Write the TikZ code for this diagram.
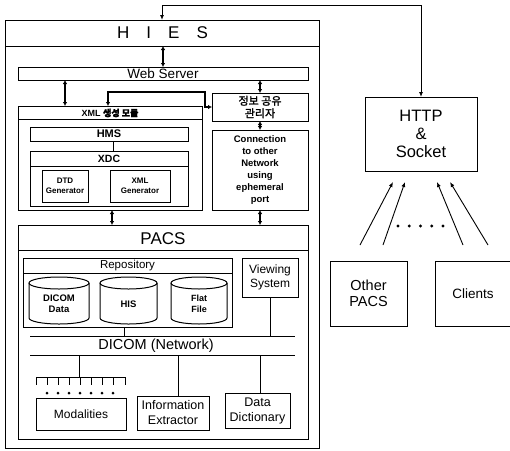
\documentclass[tikz,border=0pt]{standalone}
\usepackage{fontspec}
\setmainfont{Liberation Sans}
\newfontfamily\kr[FakeBold=1.5]{Noto Sans CJK KR}
\usetikzlibrary{arrows.meta}
\tikzset{
  bx/.style={draw, line width=1pt, inner sep=0pt, outer sep=0pt, align=center},
  ln/.style={line width=1pt},
  dbl/.style={{Latex[length=4pt,width=4.5pt]}-{Latex[length=4pt,width=4.5pt]}, line width=1.2pt},
  sgl/.style={-{Latex[length=5pt,width=4pt]}, line width=0.9pt},
  txt/.style={inner sep=0pt, align=center},
}
\newcommand{\fs}[2]{\fontsize{#1}{#2}\selectfont}
\begin{document}
\begin{tikzpicture}[x=1pt, y=-1pt]
\useasboundingbox (0,0) rectangle (510,450);
\fill[white] (0,0) rectangle (510,450);

% ---- HIES outer box
\node[bx, minimum width=314pt, minimum height=428pt] (hies) at (162,234) {};
\node[txt, font=\fs{17}{20}] (hiest) at (162.5,33) {H\quad I\quad E\quad S};
\draw[ln] ([yshift=-26pt]hies.north west) -- ([yshift=-26pt]hies.north east);

% ---- Web server
\node[bx, minimum width=290pt, minimum height=13pt] (web) at (163,73.5) {};
\node[txt, font=\fs{13.5}{14}] (webt) at (163,73.5) {Web Server};

% ---- XML module
\node[bx, minimum width=184pt, minimum height=104pt] (xml) at (110,158) {};
\draw[ln] ([yshift=-13pt]xml.north west) -- ([yshift=-13pt]xml.north east);
\node[txt, font=\fs{9}{10}\bfseries] (xmlt) at (110,113) {XML {\kr 생성 모듈}};
\node[bx, minimum width=158pt, minimum height=14pt] (hms) at (109,134) {};
\node[txt, font=\fs{11}{11}\bfseries] (hmst) at (109,134) {HMS};
\node[bx, minimum width=158pt, minimum height=55pt] (xdc) at (109,178.5) {};
\draw[ln] ([yshift=-15pt]xdc.north west) -- ([yshift=-15pt]xdc.north east);
\node[txt, font=\fs{10.5}{11}\bfseries] (xdct) at (109,158.5) {XDC};
\node[bx, minimum width=46pt, minimum height=32pt, font=\fs{8}{10.5}\bfseries] (dtd) at (65,186) {DTD\\Generator};
\node[bx, minimum width=60pt, minimum height=32pt, font=\fs{8}{10.5}\bfseries] (xmlg) at (140,186) {XML\\Generator};
\draw[ln] (hms.south -| 113,0) -- (xdc.north -| 113,0);

% ---- info sharing manager & connection
\node[bx, minimum width=96pt, minimum height=28pt, font=\fs{11}{12.5}\kr] (info) at (260,107) {정보 공유\\관리자};
\node[bx, minimum width=96pt, minimum height=80pt, font=\fs{9.5}{12}\bfseries] (conn) at (260,170) {Connection\\to other\\Network\\using\\ephemeral\\port};

% ---- PACS
\node[bx, minimum width=290pt, minimum height=214pt] (pacs) at (163,332) {};
\draw[ln] ([yshift=-25pt]pacs.north west) -- ([yshift=-25pt]pacs.north east);
\node[txt, font=\fs{17}{20}] (pacst) at (163,239) {PACS};

\node[bx, minimum width=209pt, minimum height=69pt] (repo) at (127.5,292.5) {};
\draw[ln] ([yshift=-15pt]repo.north west) -- ([yshift=-15pt]repo.north east);
\node[txt, font=\fs{11.5}{12}] (repot) at (127.5,265.5) {Repository};

% cylinders
\draw[ln] (29,283) -- (29,318) arc[start angle=180, end angle=360, x radius=30pt, y radius=6pt] -- (89,283);
\draw[ln] (59,283) ellipse[x radius=30pt, y radius=6pt];
\node[txt, font=\fs{9.5}{11}\bfseries] (cyla) at (59,304) {DICOM\\Data};
\draw[ln] (100,283) -- (100,318) arc[start angle=180, end angle=360, x radius=28.5pt, y radius=6pt] -- (157,283);
\draw[ln] (128.5,283) ellipse[x radius=28.5pt, y radius=6pt];
\node[txt, font=\fs{9.5}{11}\bfseries] (cylb) at (128.5,304) {HIS};
\draw[ln] (171,283) -- (171,318) arc[start angle=180, end angle=360, x radius=28pt, y radius=6pt] -- (227,283);
\draw[ln] (199,283) ellipse[x radius=28pt, y radius=6pt];
\node[txt, font=\fs{9}{11}\bfseries] (cylc) at (199,304) {Flat\\File};

\node[bx, minimum width=56pt, minimum height=39pt, font=\fs{12}{14}] (view) at (270,277.5) {Viewing\\System};

% DICOM network
\coordinate (netA) at (30,336);
\coordinate (netB) at (295,336);
\coordinate (netC) at (30,355);
\coordinate (netD) at (295,355);
\draw[ln] (netA) -- (netB);
\draw[ln] (netC) -- (netD);
\node[txt, font=\fs{14.5}{16}] (nett) at (156,346) {DICOM (Network)};
\draw[ln] (repo.south -| 124,0) -- (netA -| 124,0);
\draw[ln] (view.south) -- (view.south |- netA);

% comb + modalities
\coordinate (comb) at (79,377);
\draw[ln] (netC -| comb) -- (comb);
\draw[ln] (36,377) -- (125,377);
\foreach \i in {0,...,8} \draw[ln] ({36+\i*11.125},377) -- ++(0,8);
\foreach \i in {0,...,6} \fill ({47+\i*11},393) circle[radius=1.5pt];
\node[bx, minimum width=90pt, minimum height=32pt, font=\fs{12}{14}] (moda) at (81,414) {Modalities};
\node[bx, minimum width=72pt, minimum height=34pt, font=\fs{12.5}{15}] (extr) at (173,413) {Information\\Extractor};
\node[bx, minimum width=65pt, minimum height=35pt, font=\fs{12.5}{15}] (dict) at (257.5,410.5) {Data\\Dictionary};
\draw[ln] (netC -| 178,0) -- (extr.north -| 178,0);
\draw[ln] (netC -| 260,0) -- (dict.north -| 260,0);

% ---- arrows inside HIES
\draw[dbl] (web.north |- 0,46) -- (web.north);
\draw[dbl] (web.south -| 65,0) -- (xml.north -| 65,0);
\draw[dbl] (xml.north -| 108,0) -- (108,92) -- (205,92) -- (205,107) -- (info.west);
\draw[dbl] (web.south -| info.north) -- (info.north);
\draw[dbl] (info.south) -- (conn.north);
\draw[dbl] (conn.south) -- (conn.south |- pacs.north);
\draw[dbl] (xml.south -| 112,0) -- (pacs.north -| 112,0);

% ---- right side
\node[bx, minimum width=112pt, minimum height=74pt, font=\fs{16.5}{18}] (http) at (421,134) {HTTP\\\&\\Socket};
\node[bx, minimum width=77pt, minimum height=65pt, font=\fs{14.5}{16}] (other) at (368.5,293.5) {Other\\PACS};
\node[bx, minimum width=78pt, minimum height=65pt] (clients) at (474,293.5) {};
\node[txt, font=\fs{13.5}{15}] (clientst) at (473,293.5) {Clients};

\draw[{Latex[length=5pt,width=4pt]}-{Latex[length=5pt,width=4pt]}, line width=0.9pt] (hies.north) -- (162,5) -| (http.north);

\coordinate (s1) at (360,245); \coordinate (e1) at (393,182);
\coordinate (s2) at (383,245); \coordinate (e2) at (405,182);
\coordinate (s3) at (463,245); \coordinate (e3) at (437,182);
\coordinate (s4) at (488,245); \coordinate (e4) at (450,182);
\draw[sgl] (s1) -- (e1);
\draw[sgl] (s2) -- (e2);
\draw[sgl] (s3) -- (e3);
\draw[sgl] (s4) -- (e4);
\foreach \i in {0,...,4} \fill ({398+\i*11.25},226) circle[radius=1.6pt];
\end{tikzpicture}
\end{document}
